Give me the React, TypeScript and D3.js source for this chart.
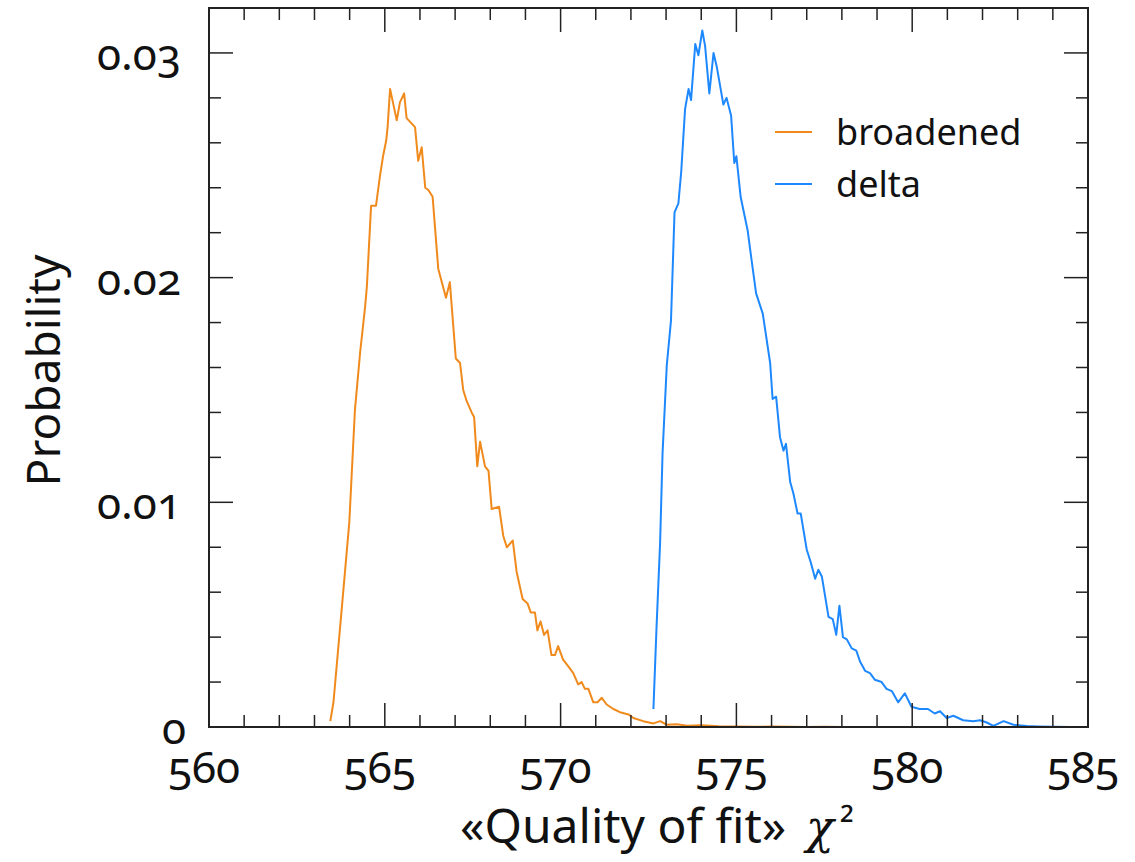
import React from "react";
import * as d3 from "d3";

const broadenedX = [563.45,563.54,563.8,563.99,564.15,564.3,564.44,564.49,564.61,564.75,564.86,564.95,565.04,565.08,565.15,565.34,565.43,565.55,565.62,565.86,565.95,566.05,566.15,566.24,566.36,566.52,566.74,566.85,567.02,567.14,567.23,567.33,567.47,567.54,567.63,567.71,567.85,567.95,568.04,568.25,568.37,568.47,568.64,568.75,568.92,569.06,569.15,569.27,569.34,569.43,569.53,569.63,569.74,569.84,569.93,570.07,570.22,570.36,570.5,570.6,570.69,570.79,570.93,571.05,571.17,571.31,571.5,571.69,571.93,572.07,572.35,572.64,572.83,573.02,573.3,573.6,574.0,574.5,575.0,575.5,576.0,576.5,577.0,577.5,578.0,578.24];
const broadenedY = [0.00026,0.0011,0.0057,0.0091,0.0141,0.0167,0.0187,0.0196,0.0232,0.0232,0.0245,0.0254,0.0261,0.0267,0.0284,0.027,0.0278,0.0282,0.0271,0.0267,0.0252,0.0258,0.024,0.0239,0.0236,0.0204,0.0191,0.0198,0.0164,0.0162,0.015,0.0145,0.014,0.0138,0.0116,0.0127,0.0116,0.0114,0.0097,0.0098,0.0085,0.008,0.0083,0.0069,0.0057,0.0055,0.0051,0.0051,0.0043,0.0047,0.0041,0.0043,0.0032,0.0032,0.0036,0.003,0.0027,0.0024,0.0019,0.002,0.0017,0.0017,0.0011,0.0011,0.0013,0.001,0.0008,0.00066,0.00056,0.0004,0.00026,0.00016,0.00026,0.0001,0.00012,0.00006,0.00008,0.00003,0.00002,0.00001,0.00002,0.00001,0,0.00001,0,0];

const deltaX = [572.64,572.73,572.83,572.9,573.02,573.14,573.24,573.35,573.43,573.54,573.64,573.71,573.83,573.92,574.03,574.11,574.23,574.35,574.44,574.63,574.72,574.85,574.94,575.0,575.12,575.32,575.43,575.56,575.75,575.96,576.03,576.13,576.24,576.34,576.41,576.53,576.62,576.74,576.83,577.0,577.12,577.24,577.33,577.43,577.62,577.74,577.84,577.93,578.03,578.14,578.28,578.41,578.52,578.66,578.8,578.94,579.13,579.27,579.42,579.6,579.79,579.98,580.21,580.45,580.64,580.79,580.98,581.17,581.45,581.74,581.93,582.12,582.31,582.6,582.88,583.26,583.6,584.0,584.5,585.0];
const deltaY = [0.0008,0.0045,0.0082,0.0122,0.0161,0.0181,0.0229,0.0233,0.0247,0.0275,0.0284,0.0279,0.0304,0.0299,0.031,0.0303,0.0282,0.03,0.0294,0.0277,0.028,0.0272,0.0251,0.0254,0.0236,0.0221,0.0208,0.0193,0.0184,0.0162,0.0146,0.0147,0.0129,0.0123,0.0126,0.0109,0.0104,0.0095,0.0095,0.0079,0.0073,0.0066,0.007,0.0067,0.0049,0.0048,0.0041,0.0054,0.004,0.0039,0.0035,0.0034,0.0029,0.0025,0.0024,0.0021,0.002,0.0017,0.0016,0.0011,0.0015,0.0009,0.0008,0.0008,0.0006,0.0007,0.0004,0.0005,0.0003,0.00026,0.0003,0.0002,0.00005,0.00026,0.0001,0.00004,0.00002,0.00001,0,0];

const xMajorTicks = [560, 565, 570, 575, 580, 585];
const xTickLabels = ["560", "565", "570", "575", "580", "585"];
const yMajorTicks = [0, 0.01, 0.02, 0.03];
const yTickLabels = ["0", "0.01", "0.02", "0.03"];
const seriesNames = ["broadened", "delta"];
const seriesColors = ["#f08a1c", "#1e88ff"];
const xTitle = "«Quality of fit»";
const yTitle = "Probability";

const W = 1135, H = 862;
const M = { left: 209, right: 1088, top: 8, bottom: 727 };
const FONT = "'Noto Sans', 'DejaVu Sans', sans-serif";

export default function App() {
  const x = d3.scaleLinear().domain([560, 585]).range([M.left, M.right]);
  const y = d3.scaleLinear().domain([0, 0.032]).range([M.bottom, M.top]);
  const line = d3.line<[number, number]>().x(d => x(d[0])).y(d => y(d[1]));
  const series = [
    d3.zip(broadenedX, broadenedY) as [number, number][],
    d3.zip(deltaX, deltaY) as [number, number][],
  ];
  const xMinor = d3.range(560, 585.001, 1).filter(v => v % 5 !== 0);
  const yMinor = d3.range(0, 0.0321, 0.002).filter(v => Math.abs(v / 0.01 - Math.round(v / 0.01)) > 1e-6);
  const MAJ = 24, MIN = 12;
  const stroke = "#222";
  return (
    <svg width={W} height={H} style={{ display: "block", position: "absolute", left: 0, top: 0, background: "#fff" }}>
      <defs>
        <clipPath id="plot">
          <rect x={M.left} y={M.top} width={M.right - M.left} height={M.bottom - M.top} />
        </clipPath>
      </defs>
      <g clipPath="url(#plot)">
        {series.map((s, i) => (
          <path key={i} d={line(s) || ""} fill="none" stroke={seriesColors[i]} strokeWidth={2} strokeLinejoin="round" />
        ))}
      </g>
      <g stroke={stroke} strokeWidth={1.5}>
        {xMajorTicks.map(v => (
          <g key={"xm" + v}>
            <line x1={x(v)} x2={x(v)} y1={M.bottom} y2={M.bottom - MAJ} />
            <line x1={x(v)} x2={x(v)} y1={M.top} y2={M.top + MAJ} />
          </g>
        ))}
        {xMinor.map(v => (
          <g key={"xn" + v}>
            <line x1={x(v)} x2={x(v)} y1={M.bottom} y2={M.bottom - MIN} />
            <line x1={x(v)} x2={x(v)} y1={M.top} y2={M.top + MIN} />
          </g>
        ))}
        {yMajorTicks.map(v => (
          <g key={"ym" + v}>
            <line x1={M.left} x2={M.left + MAJ} y1={y(v)} y2={y(v)} />
            <line x1={M.right} x2={M.right - MAJ} y1={y(v)} y2={y(v)} />
          </g>
        ))}
        {yMinor.map(v => (
          <g key={"yn" + v}>
            <line x1={M.left} x2={M.left + MIN} y1={y(v)} y2={y(v)} />
            <line x1={M.right} x2={M.right - MIN} y1={y(v)} y2={y(v)} />
          </g>
        ))}
      </g>
      <rect x={M.left} y={M.top} width={M.right - M.left} height={M.bottom - M.top} fill="none" stroke={stroke} strokeWidth={2} />
      <g fontFamily={FONT} fontSize={44} fill="#111" style={{ fontVariantNumeric: "oldstyle-nums" }}>
        {xMajorTicks.map((v, i) => (
          <text key={"xl" + v} x={x(v) - 5} y={783} textAnchor="middle">{xTickLabels[i]}</text>
        ))}
        {yMajorTicks.map((v, i) => (
          <text key={"yl" + v} x={v === 0 ? 186 : 181} y={y(v) + 17} textAnchor="end">{yTickLabels[i]}</text>
        ))}
      </g>
      <text x={460} y={843} fontFamily={FONT} fontSize={48} fill="#111">
        {xTitle}
        <tspan x={806} fontStyle="italic" fontFamily="'DejaVu Serif', serif" fontSize={46}>χ</tspan>
        <tspan x={840} dy={-4} fontSize={40}>²</tspan>
      </text>
      <text transform={`translate(60, ${(M.top + M.bottom) / 2 + 3}) rotate(-90)`} textAnchor="middle" fontFamily={FONT} fontSize={46} fill="#111">
        {yTitle}
      </text>
      <g fontFamily={FONT} fontSize={36} fill="#111">
        {seriesNames.map((n, i) => (
          <g key={n} transform={`translate(0, ${i * 52})`}>
            <line x1={775} x2={812} y1={132} y2={132} stroke={seriesColors[i]} strokeWidth={2} />
            <text x={836} y={145}>{n}</text>
          </g>
        ))}
      </g>
    </svg>
  );
}
